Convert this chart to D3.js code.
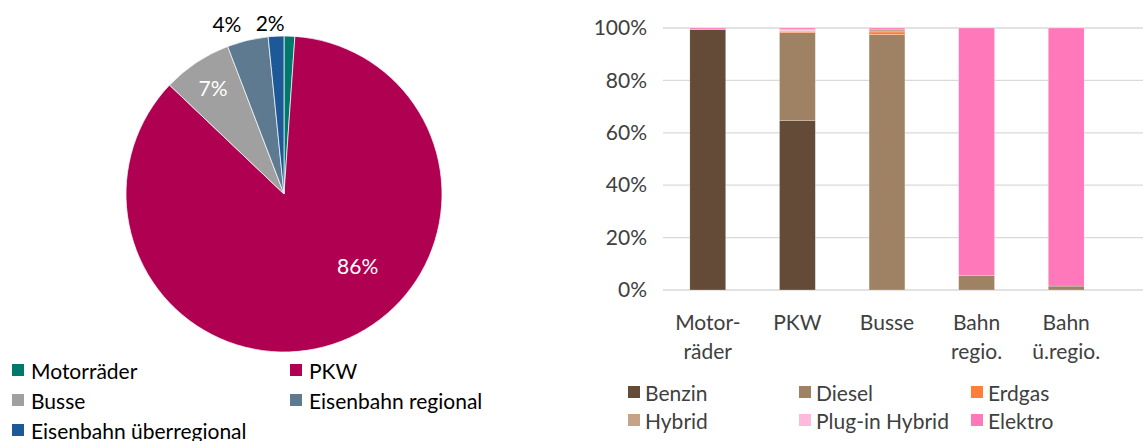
<!DOCTYPE html>
<html>
<head>
<meta charset="utf-8">
<script src="https://cdn.jsdelivr.net/npm/d3@7"></script>
<style>
  body { margin: 0; background: #fff; }
  text { font-family: Lato, "Open Sans", sans-serif; }
</style>
</head>
<body>
<svg id="chart" width="1143" height="441"></svg>
<script>
// pie: share of modes
const modes = ["Motorräder", "PKW", "Busse", "Eisenbahn regional", "Eisenbahn überregional"];
const modeShare = [1.1, 86.0, 7.1, 4.2, 1.6];
const modeLabels = ["", "86%", "7%", "4%", "2%"];
const modeColors = ["#00786B", "#AF0051", "#A0A0A0", "#5E7A90", "#1D5996"];

// stacked bars: fuel share per mode
const vehicles = [["Motor-", "räder"], ["PKW"], ["Busse"], ["Bahn", "regio."], ["Bahn", "ü.regio."]];
const fuels = ["Benzin", "Diesel", "Erdgas", "Hybrid", "Plug-in Hybrid", "Elektro"];
const benzin = [99.4, 64.7, 0, 0, 0];
const diesel = [0, 33.5, 97.5, 5.5, 1.5];
const erdgas = [0, 0.5, 1.0, 0, 0];
const hybrid = [0, 0.4, 0.8, 0, 0];
const plugin = [0, 0.3, 0, 0, 0];
const elektro = [0.6, 0.6, 0.7, 94.5, 98.5];
const fuelColors = ["#634B37", "#9F8163", "#FF7F3A", "#C4A484", "#FFB9DC", "#FF78BA"];
const yTicks = [0, 20, 40, 60, 80, 100];

const svg = d3.select("#chart");
const textColor = "#404040";
const fontSize = 21;

// ---------- pie ----------
const pieG = svg.append("g").attr("transform", "translate(284,194)");
const radius = 158;
const pie = d3.pie().sort(null).value(d => d);
const arcs = pie(modeShare);
const arc = d3.arc().innerRadius(0).outerRadius(radius);

pieG.selectAll("path")
    .data(arcs)
    .enter().append("path")
    .attr("d", arc)
    .attr("fill", (d, i) => modeColors[i])
    .attr("stroke", "#fff")
    .attr("stroke-width", 0.7);

// label placement like excel's best fit: [radius factor, angle shift in rad]
const labelPlace = [[0, 0], [0.65, -0.43], [0.81, 0], [1.14, -0.09], [1.09, -0.03]];
arcs.forEach((a, i) => {
    if (!modeLabels[i]) return;
    const outside = labelPlace[i][0] > 1;
    const ang = (a.startAngle + a.endAngle) / 2 + labelPlace[i][1];
    const r = radius * labelPlace[i][0];
    pieG.append("text")
        .attr("x", Math.sin(ang) * r)
        .attr("y", -Math.cos(ang) * r)
        .attr("text-anchor", "middle")
        .attr("dominant-baseline", "central")
        .attr("font-size", fontSize)
        .attr("fill", outside ? "#000" : "#fff")
        .text(modeLabels[i]);
});

// pie legend
const pieLegend = svg.append("g");
modes.forEach((m, i) => {
    const x = i % 2 === 0 ? 12 : 290;
    const y = 370 + Math.floor(i / 2) * 30;
    pieLegend.append("rect").attr("x", x).attr("y", y - 6).attr("width", 12).attr("height", 12).attr("fill", modeColors[i]);
    pieLegend.append("text").attr("x", x + 19).attr("y", y).attr("dominant-baseline", "central")
        .attr("font-size", fontSize).attr("fill", "#000").text(m);
});

// ---------- stacked bars ----------
const series = [benzin, diesel, erdgas, hybrid, plugin, elektro];
const rows = vehicles.map((v, i) => {
    const r = { key: i };
    fuels.forEach((f, j) => r[f] = series[j][i]);
    return r;
});

const x = d3.scaleBand().domain(d3.range(vehicles.length)).range([663, 1111]).paddingInner(0.6).paddingOuter(0.3);
const y = d3.scaleLinear().domain([0, 100]).range([290, 28]);

// grid
svg.append("g").selectAll("line")
    .data(yTicks)
    .enter().append("line")
    .attr("x1", 663).attr("x2", 1143)
    .attr("y1", d => y(d)).attr("y2", d => y(d))
    .attr("stroke", "#D9D9D9").attr("stroke-width", 1.3);

const yAxis = d3.axisLeft(y).tickValues(yTicks).tickFormat(d => d + "%").tickSize(0).tickPadding(0);
svg.append("g")
    .attr("transform", "translate(647,0)")
    .call(yAxis)
    .call(g => g.select(".domain").remove())
    .call(g => g.selectAll("text").attr("font-size", fontSize).attr("fill", textColor).attr("font-family", "Lato, sans-serif"));

const stack = d3.stack().keys(fuels);
const stacked = stack(rows);

svg.append("g").selectAll("g")
    .data(stacked)
    .enter().append("g")
    .attr("fill", (d, i) => fuelColors[i])
    .selectAll("rect")
    .data(d => d)
    .enter().append("rect")
    .attr("x", d => x(d.data.key))
    .attr("width", x.bandwidth())
    .attr("y", d => y(d[1]))
    .attr("height", d => Math.max(0, y(d[0]) - y(d[1])))
    .attr("stroke", "#fff")
    .attr("stroke-width", 0.4)
    .attr("stroke-opacity", 0.6);

// category labels
const catG = svg.append("g");
vehicles.forEach((lines, i) => {
    const cx = x(i) + x.bandwidth() / 2;
    const t = catG.append("text")
        .attr("x", cx)
        .attr("y", 330)
        .attr("text-anchor", "middle")
        .attr("font-size", fontSize)
        .attr("fill", textColor);
    lines.forEach((l, k) => {
        t.append("tspan").attr("x", cx).attr("dy", k === 0 ? 0 : 29).text(l);
    });
});

// bar legend
const barLegend = svg.append("g");
const legendX = [628, 799, 971];
fuels.forEach((f, i) => {
    const lx = legendX[i % 3];
    const ly = 392 + Math.floor(i / 3) * 28;
    barLegend.append("rect").attr("x", lx).attr("y", ly - 6).attr("width", 12).attr("height", 12).attr("fill", fuelColors[i]);
    barLegend.append("text").attr("x", lx + 17).attr("y", ly).attr("dominant-baseline", "central")
        .attr("font-size", fontSize).attr("fill", textColor).text(f);
});
</script>
</body>
</html>
